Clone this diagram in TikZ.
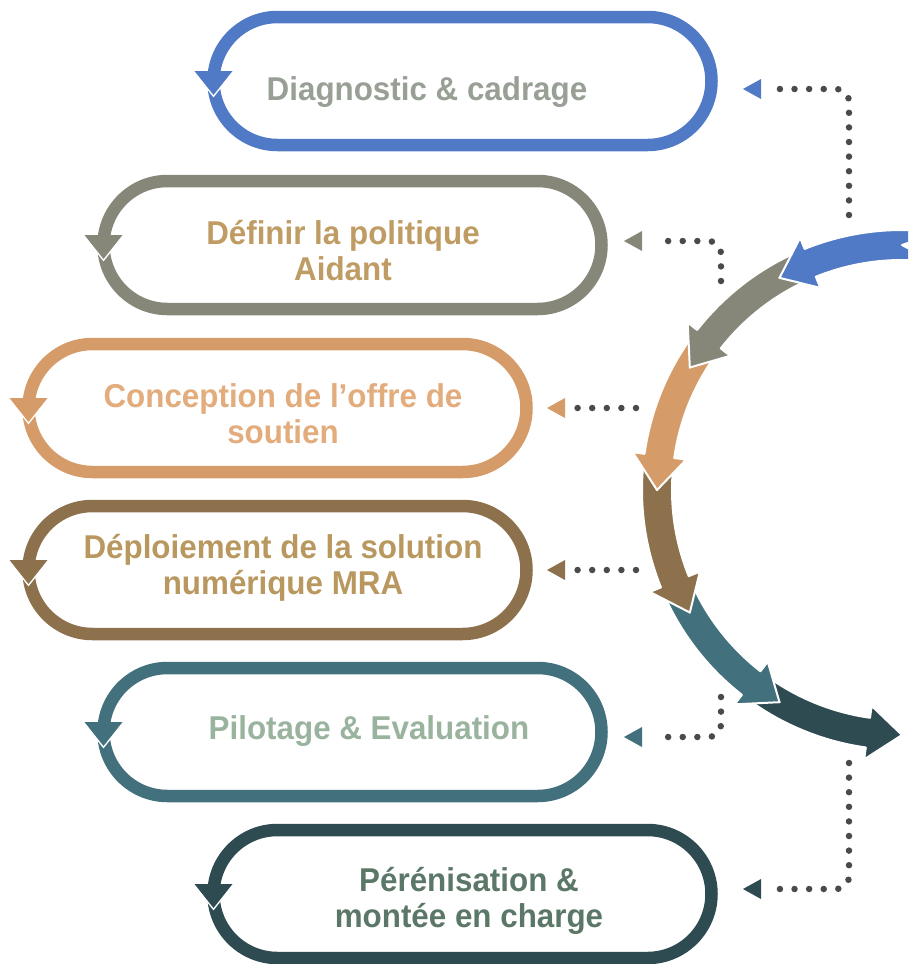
\documentclass[tikz,border=0pt]{standalone}
\usepackage{fontspec}
\setmainfont{Liberation Sans}[FakeStretch=0.95]
\usepackage{tikz}
\usetikzlibrary{shapes.misc}
\definecolor{cblue}{HTML}{5079C6}
\definecolor{cgray}{HTML}{878779}
\definecolor{corange}{HTML}{D59B69}
\definecolor{cbrown}{HTML}{8C714C}
\definecolor{cteal}{HTML}{43707D}
\definecolor{cdark}{HTML}{2F4B52}
\definecolor{tdiag}{HTML}{98A096}
\definecolor{tdefi}{HTML}{BF9C64}
\definecolor{tconc}{HTML}{E2AC7C}
\definecolor{tdepl}{HTML}{B99860}
\definecolor{tpilo}{HTML}{9AB39E}
\definecolor{tpere}{HTML}{5B7767}
\definecolor{dotgray}{HTML}{4A4A4A}

\tikzset{
  steploop/.style={rounded rectangle, draw, line width=12.5pt, minimum width=498pt,
    minimum height=128pt, inner sep=0pt, outer sep=0pt},
  steptext/.style={font=\bfseries\fontsize{33}{36}\selectfont, align=center},
  dotline/.style={draw=dotgray, line width=6.5pt, line cap=round,
    dash pattern=on 0pt off 14.6pt, rounded corners=12pt},
  arcpiece/.style={draw=white, line width=2pt, line join=round}
}

% one piece of the big cycle arrow: #1 tip angle, #2 colour
\newcommand{\cyclepiece}[2]{%
  \filldraw[arcpiece, fill=#2]
    ({#1+38}:260) arc[start angle={#1+38}, end angle={#1+8}, radius=260]
    -- ({#1+8}:272) -- (#1:245) -- ({#1+8}:218) -- ({#1+8}:230)
    arc[start angle={#1+8}, end angle={#1+38}, radius=230]
    -- ({#1+30}:245) -- cycle;}
% head on the left side of a loop: #1 node, #2 colour
\newcommand{\looptip}[2]{%
  \draw[white, line width=3pt] ([shift={(-19,-10)}]#1.west) -- ([shift={(0,14)}]#1.west)
    -- ([shift={(19,-10)}]#1.west);
  \fill[#2] ([shift={(-19,-10)}]#1.west) -- ([shift={(0,14)}]#1.west)
    -- ([shift={(19,-10)}]#1.west) -- cycle;}

\begin{document}
\begin{tikzpicture}[x=1pt, y=-1pt]
  \useasboundingbox (0,0) rectangle (908,964);
  \clip (0,0) rectangle (908,964);

  % the six loops
  \node[steploop, draw=cblue] (diag) at (462.5,81) {};
  \node[steploop, draw=cgray] (defi) at (352.5,245) {};
  \node[steploop, draw=corange] (conc) at (277.5,408) {};
  \node[steploop, draw=cbrown] (depl) at (277.5,570) {};
  \node[steploop, draw=cteal] (pilo) at (352.5,732) {};
  \node[steploop, draw=cdark] (pere) at (462.5,894) {};
  \looptip{diag}{cblue}
  \looptip{defi}{cgray}
  \looptip{conc}{corange}
  \looptip{depl}{cbrown}
  \looptip{pilo}{cteal}
  \looptip{pere}{cdark}

  \node[steptext, text=tdiag] (diagtext) at (427,92) {Diagnostic \& cadrage};
  \node[steptext, text=tdefi] (defitext) at (343,251) {Définir la politique\\Aidant};
  \node[steptext, text=tconc] (conctext) at (283,414) {Conception de l’offre de\\soutien};
  \node[steptext, text=tdepl] (depltext) at (283,568) {Déploiement de la solution\\numérique MRA};
  \node[steptext, text=tpilo] (pilotext) at (369,731) {Pilotage \& Evaluation};
  \node[steptext, text=tpere] (peretext) at (469,901) {Pérénisation \&\\montée en charge};

  % big cycle on the right
  \begin{scope}[shift={(902,490)}]
    \cyclepiece{90}{cdark}
    \cyclepiece{120}{cteal}
    \cyclepiece{150}{cbrown}
    \cyclepiece{180}{corange}
    \cyclepiece{210}{cgray}
    \cyclepiece{240}{cblue}
  \end{scope}

  % dotted links
  \coordinate (s1) at (849,215);  \coordinate (e1) at (743,89);
  \coordinate (s2) at (721,281);  \coordinate (e2) at (624,241);
  \coordinate (s3) at (636,408);  \coordinate (e3) at (547,408);
  \coordinate (s4) at (636,570);  \coordinate (e4) at (547,570);
  \coordinate (s5) at (721,697);  \coordinate (e5) at (624,737);
  \coordinate (s6) at (849,763);  \coordinate (e6) at (743,889);
  \draw[dotline] (s1) |- ([shift={(30,0)}]e1);
  \draw[dotline] (s2) |- ([shift={(30,0)}]e2);
  \draw[dotline] (s3) -- ([shift={(30,0)}]e3);
  \draw[dotline] (s4) -- ([shift={(30,0)}]e4);
  \draw[dotline] (s5) |- ([shift={(30,0)}]e5);
  \draw[dotline] (s6) |- ([shift={(30,0)}]e6);
  \fill[cblue] (e1) -- ++(18,-10) -- ++(0,20) -- cycle;
  \fill[cgray] (e2) -- ++(18,-10) -- ++(0,20) -- cycle;
  \fill[corange] (e3) -- ++(18,-10) -- ++(0,20) -- cycle;
  \fill[cbrown] (e4) -- ++(18,-10) -- ++(0,20) -- cycle;
  \fill[cteal] (e5) -- ++(18,-10) -- ++(0,20) -- cycle;
  \fill[cdark] (e6) -- ++(18,-10) -- ++(0,20) -- cycle;
\end{tikzpicture}
\end{document}
